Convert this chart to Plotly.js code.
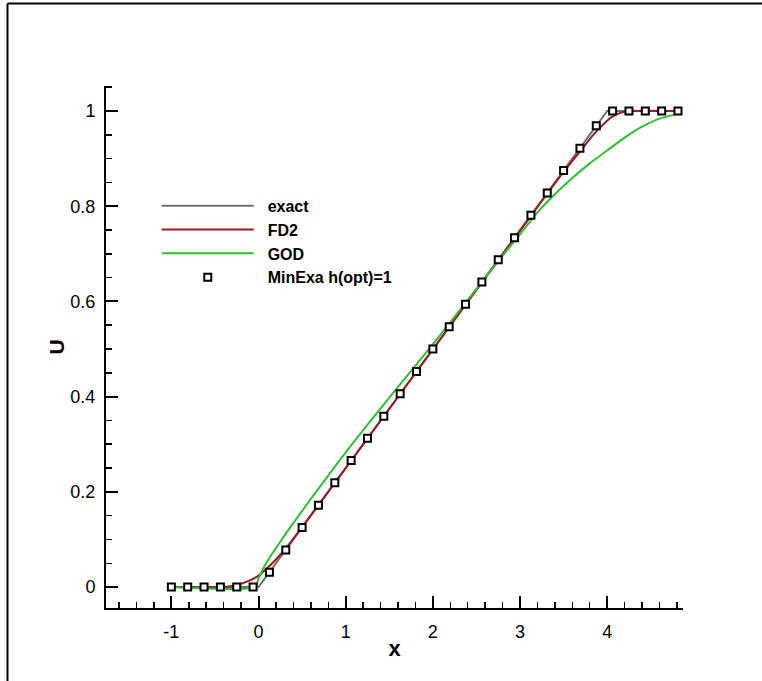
<!DOCTYPE html>
<html>
<head>
<meta charset="utf-8">
<script src="https://cdn.plot.ly/plotly-3.0.1.min.js"></script>
<style>html,body{margin:0;padding:0;background:#fff;}#chart{width:762px;height:681px;}</style>
</head>
<body>
<div id="chart"></div>
<script>
// Exact solution (gray)
const exactX = [-1, 0, 4, 4.8125];
const exactU = [0, 0, 1, 1];

// FD2 (dark red)
const fd2X = [-1, -0.4, -0.3, -0.2, -0.1, 0, 0.1, 0.2, 0.33, 0.5, 0.75, 1.0, 1.5, 2.0, 2.5, 3.0, 3.3, 3.5, 3.7, 3.85, 3.95, 4.05, 4.15, 4.25, 4.8125];
const fd2U = [0, 0, 0.002, 0.007, 0.014, 0.024, 0.040, 0.058, 0.085, 0.126, 0.188, 0.25, 0.374, 0.499, 0.624, 0.748, 0.823, 0.872, 0.918, 0.952, 0.971, 0.987, 0.996, 1.0, 1.0];

// GOD (green)
const godX = [-1, -0.04, 0, 0.08, 0.2, 0.37, 0.6, 1.0, 1.5, 2.0, 2.4, 2.8, 3.0, 3.2, 3.4, 3.6, 3.8, 4.0, 4.2, 4.4, 4.6, 4.8125];
const godU = [0, 0, 0.018, 0.048, 0.082, 0.127, 0.185, 0.283, 0.398, 0.51, 0.603, 0.696, 0.741, 0.787, 0.825, 0.859, 0.89, 0.917, 0.944, 0.967, 0.984, 0.994];

// MinExa h(opt)=1 (square markers)
const minX = [-1, -0.8125, -0.625, -0.4375, -0.25, -0.0625, 0.125, 0.3125, 0.5, 0.6875, 0.875, 1.0625, 1.25, 1.4375, 1.625, 1.8125, 2.0, 2.1875, 2.375, 2.5625, 2.75, 2.9375, 3.125, 3.3125, 3.5, 3.6875, 3.875, 4.0625, 4.25, 4.4375, 4.625, 4.8125];
const minU = [0, 0, 0, 0, 0, 0, 0.031, 0.078, 0.125, 0.172, 0.219, 0.266, 0.3125, 0.359, 0.406, 0.453, 0.5, 0.547, 0.594, 0.641, 0.6875, 0.734, 0.781, 0.828, 0.875, 0.922, 0.969, 1, 1, 1, 1, 1];

const seriesNames = ['exact', 'FD2', 'GOD', 'MinExa h(opt)=1'];
const xTickVals = [-1, 0, 1, 2, 3, 4];
const yTickVals = [0, 0.2, 0.4, 0.6, 0.8, 1];
const yTickText = ['0', '0.2', '0.4', '0.6', '0.8', '1'];

const FONT = 'Arial, "Liberation Sans", sans-serif';
const PAD = '\u00a0\u00a0';

const traces = [
  {x: exactX, y: exactU, name: PAD + seriesNames[0], mode: 'lines', line: {color: '#6e6e6e', width: 2}},
  {x: fd2X, y: fd2U, name: PAD + seriesNames[1], mode: 'lines', line: {color: '#9b1c1c', width: 2, shape: 'spline', smoothing: 0.6}},
  {x: godX, y: godU, name: PAD + seriesNames[2], mode: 'lines', line: {color: '#2fbf2f', width: 2, shape: 'spline', smoothing: 0.6}},
  {x: minX, y: minU, name: PAD + seriesNames[3], mode: 'markers',
   marker: {symbol: 'square', size: 7, color: '#ffffff', line: {color: '#000000', width: 2}}}
];

const axisCommon = {
  showgrid: false, zeroline: false, showline: true, linecolor: '#000', linewidth: 2,
  ticks: 'inside', ticklen: 12, tickwidth: 2, tickcolor: '#000',
  tickfont: {family: FONT, size: 18, color: '#000'},
  mirror: false, automargin: false
};

const layout = {
  width: 762, height: 681,
  margin: {l: 106, r: 79, t: 86, b: 73},
  paper_bgcolor: '#fff', plot_bgcolor: '#fff',
  showlegend: true,
  legend: {
    x: 0.088, y: 0.803, xanchor: 'left', yanchor: 'top',
    bgcolor: 'rgba(0,0,0,0)', itemwidth: 92,
    font: {family: FONT, size: 16, color: '#000', weight: 'bold'},
    tracegroupgap: 0
  },
  xaxis: Object.assign({}, axisCommon, {
    range: [-1.75, 4.87], tickvals: xTickVals, ticktext: xTickVals.map(String),
    ticklabelstandoff: 6,
    minor: {dtick: 0.2, tick0: 0, ticks: 'inside', ticklen: 6, tickwidth: 1.5, tickcolor: '#000', showgrid: false},
    title: {text: 'x', font: {family: FONT, size: 22, color: '#000', weight: 'bold'}, standoff: 0}
  }),
  yaxis: Object.assign({}, axisCommon, {
    range: [-0.044, 1.0525], tickvals: yTickVals, ticktext: yTickText,
    ticklabelstandoff: 5,
    minor: {dtick: 0.05, tick0: 0, ticks: 'inside', ticklen: 6, tickwidth: 1.5, tickcolor: '#000', showgrid: false},
    title: {text: 'U', font: {family: FONT, size: 21, color: '#000', weight: 'bold'}, standoff: 0}
  }),
  shapes: [
    {type: 'line', xref: 'paper', yref: 'paper', x0: -0.1707, x1: -0.1707, y0: 1.158, y1: -0.2, line: {color: '#000', width: 2}},
    {type: 'line', xref: 'paper', yref: 'paper', x0: -0.1707, x1: 1.2, y0: 1.158, y1: 1.158, line: {color: '#000', width: 2}}
  ]
};

Plotly.newPlot('chart', traces, layout, {staticPlot: true, displayModeBar: false});
</script>
</body>
</html>
